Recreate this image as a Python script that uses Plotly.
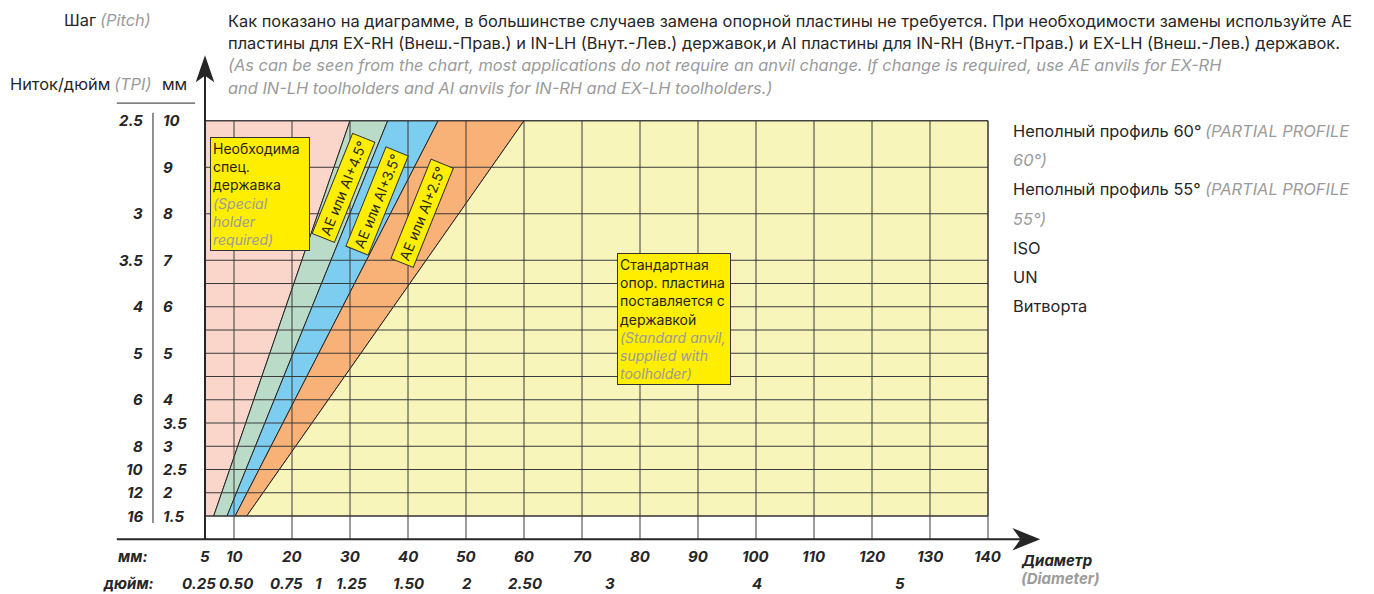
import plotly.graph_objects as go

# x: diameter (mm), y: pitch (mm)
diam_ticks = [5, 10, 20, 30, 40, 50, 60, 70, 80, 90, 100, 110, 120, 130, 140]
inch_labels = ["0.25", "0.50", "0.75", "1", "1.25", "1.50", "2", "2.50", "3", "4", "5"]
inch_pos_mm = [4, 10.5, 19, 24.5, 30.2, 40.2, 50.2, 60.2, 74.8, 100.2, 124.8]

pitch_mm = [10, 9, 8, 7, 6, 5, 4, 3.5, 3, 2.5, 2, 1.5]
tpi = ["2.5", "", "3", "3.5", "4", "5", "6", "", "8", "10", "12", "16"]
pitch_grid = [1.5, 2, 2.5, 3, 3.5, 4, 4.5, 5, 5.5, 6, 6.5, 7, 8, 9, 10]

# zone boundaries: diameter where each line meets pitch 1.5 and pitch 10
bound_bottom = [6.5, 8.8, 10.2, 12.2]
bound_top = [30, 36.5, 45.2, 60]
zone_colors = ["#f9d6c9", "#b9dbc7", "#7ccdf0", "#f8b177", "#f8f5ba"]
angle_labels = ["AE или AI+4.5°", "AE или AI+3.5°", "AE или AI+2.5°"]

legend_items = [
    ("Неполный профиль 60°", "(PARTIAL PROFILE", "60°)"),
    ("Неполный профиль 55°", "(PARTIAL PROFILE", "55°)"),
    ("ISO", "", None),
    ("UN", "", None),
    ("Витворта", "", None),
]

OFF = 8                 # page body margin
W, H = 1374 - 2 * OFF, 594
X0, SX = 176 - OFF, 5.8     # px of 0 mm, px per mm (diameter)
Y0, SY = 516 - OFF, 46.5    # px of pitch 1.5, px per mm (pitch)
FONT = "Inter"
DARK = "#262626"
GREY = "#9b9b9b"
YEL = "#ffee00"
PMIN, PMAX, DMIN, DMAX = 1.5, 10, 5, 140
AXIS_Y = 1.0


def px(x):
    return (x - OFF) / W


def py(y):
    return 1 - (y - OFF) / H


def grey(s):
    return f"<i><span style='color:{GREY}'>{s}</span></i>"


fig = go.Figure()

# coloured zones
lefts_b = [DMIN] + bound_bottom
lefts_t = [DMIN] + bound_top
rights_b = bound_bottom + [DMAX]
rights_t = bound_top + [DMAX]
for i, c in enumerate(zone_colors):
    fig.add_trace(go.Scatter(
        x=[lefts_b[i], rights_b[i], rights_t[i], lefts_t[i], lefts_b[i]],
        y=[PMIN, PMIN, PMAX, PMAX, PMIN],
        fill="toself", fillcolor=c, mode="lines",
        line=dict(color=DARK, width=1), hoverinfo="skip", showlegend=False,
    ))

shapes = []
for d in diam_ticks[1:]:
    shapes.append(dict(type="line", x0=d, x1=d, y0=AXIS_Y, y1=PMAX,
                       line=dict(color="#3a3a3a", width=1)))
for p in pitch_grid:
    shapes.append(dict(type="line", x0=DMIN, x1=DMAX, y0=p, y1=p,
                       line=dict(color="#3a3a3a", width=1)))

# axes with arrows
shapes.append(dict(type="line", x0=-10.2, x1=146, y0=AXIS_Y, y1=AXIS_Y,
                   line=dict(color=DARK, width=2)))
shapes.append(dict(type="line", x0=DMIN, x1=DMIN, y0=AXIS_Y, y1=11.0,
                   line=dict(color=DARK, width=2)))
shapes.append(dict(type="path", fillcolor=DARK, line=dict(width=0),
                   path="M 149,1.0 L 144.2,1.24 L 145.6,1.0 L 144.2,0.76 Z"))
shapes.append(dict(type="path", fillcolor=DARK, line=dict(width=0),
                   path="M 5,11.41 L 6.6,10.83 L 5,10.97 L 3.4,10.83 Z"))

# y label column separator and header underline
shapes.append(dict(type="line", x0=-3.97, x1=-3.97, y0=1.35, y1=10.17,
                   line=dict(color=DARK, width=1)))
shapes.append(dict(type="line", x0=-10.2, x1=3.3, y0=10.38, y1=10.38,
                   line=dict(color=DARK, width=1)))
for s in shapes:
    s["layer"] = "above"

ann = []
tick_font = dict(family=FONT, size=15, color=DARK)
for p, t in zip(pitch_mm, tpi):
    ann.append(dict(x=-2.6, y=p, text=f"<b><i>{p:g}</i></b>", xanchor="left",
                    showarrow=False, font=tick_font))
    if t:
        ann.append(dict(x=-5.3, y=p, text=f"<b><i>{t}</i></b>", xanchor="right",
                        showarrow=False, font=tick_font))

for d in diam_ticks:
    ann.append(dict(x=d, y=0.62, text=f"<b><i>{d}</i></b>", showarrow=False,
                    font=tick_font))
for lbl, d in zip(inch_labels, inch_pos_mm):
    ann.append(dict(x=d, y=0.04, text=f"<b><i>{lbl}</i></b>", showarrow=False,
                    font=tick_font))
ann.append(dict(x=-7.5, y=0.62, text="<b><i>мм:</i></b>", showarrow=False, font=tick_font))
ann.append(dict(x=-8.2, y=0.04, text="<b><i>дюйм:</i></b>", showarrow=False, font=tick_font))
ann.append(dict(x=145.3, y=0.55, text="<b><i>Диаметр</i></b>", xanchor="left",
                showarrow=False, font=tick_font))
ann.append(dict(x=145.3, y=0.15, text=f"<b>{grey('(Diameter)')}</b>",
                xanchor="left", showarrow=False, font=tick_font))

txt_font = dict(family=FONT, size=16.4, color=DARK)


def page_text(x, y, text, anchor="left"):
    ann.append(dict(xref="paper", yref="paper", x=px(x), y=py(y), xanchor=anchor,
                    yanchor="middle", text=text, showarrow=False, font=txt_font))


# header texts
page_text(98, 20, "Шаг", "right")
page_text(153, 20, grey("(Pitch)"), "right")
page_text(112, 84, "Ниток/дюйм", "right")
page_text(153, 84, grey("(TPI)"), "right")
page_text(160, 84, "мм")

note_lines = [
    ("Как показано на диаграмме, в большинстве случаев замена опорной пластины не требуется. При необходимости замены используйте AE", False),
    ("пластины для EX-RH (Внеш.-Прав.) и IN-LH (Внут.-Лев.) державок,и AI пластины для IN-RH (Внут.-Прав.) и EX-LH (Внеш.-Лев.) державок.", False),
    ("(As can be seen from the chart, most applications do not require an anvil change. If change is required, use AE anvils for EX-RH", True),
    ("and IN-LH toolholders and AI anvils for IN-RH and EX-LH toolholders.)", True),
]
for i, (line, it) in enumerate(note_lines):
    page_text(226, 20.5 + 22.5 * i, grey(line) if it else line)

# right-hand legend text
leg_y = 131
for main, sub, cont in legend_items:
    page_text(1011, leg_y, main)
    if sub:
        page_text(1351, leg_y, grey(sub), "right")
    leg_y += 29.2
    if cont:
        page_text(1011, leg_y, grey(cont))
        leg_y += 29.2

# yellow note boxes
box_font = dict(family=FONT, size=14, color=DARK)
ann.append(dict(x=5.9, y=9.65, xanchor="left", yanchor="top", align="left",
                text="Необходима<br>спец.<br>державка<br>" + grey("(Special<br>holder<br>required)"),
                showarrow=False, font=box_font, bgcolor=YEL, bordercolor="#333",
                borderwidth=1, borderpad=2, width=94))
ann.append(dict(x=76.0, y=7.16, xanchor="left", yanchor="top", align="left",
                text=("Стандартная<br>опор. пластина<br>поставляется с<br>державкой<br>"
                      + grey("(Standard anvil,<br>supplied with<br>toolholder)")),
                showarrow=False, font=box_font, bgcolor=YEL, bordercolor="#333",
                borderwidth=1, borderpad=2, width=108))

label_xy = [(28.8, 8.55), (34.6, 8.27), (42.4, 8.01)]
for lbl, (lx, ly) in zip(angle_labels, label_xy):
    ann.append(dict(x=lx, y=ly, text=lbl, textangle=-68, showarrow=False,
                    font=box_font, bgcolor=YEL, bordercolor="#333",
                    borderwidth=1, borderpad=3))

fig.update_layout(
    width=W, height=H,
    margin=dict(l=0, r=0, t=0, b=0),
    paper_bgcolor="white", plot_bgcolor="white",
    xaxis=dict(range=[-X0 / SX, (W - X0) / SX], visible=False, fixedrange=True),
    yaxis=dict(range=[PMIN - (H - Y0) / SY, PMIN + Y0 / SY], visible=False, fixedrange=True),
    shapes=shapes,
    annotations=ann,
    showlegend=False,
)

fig.write_html("out.html")
